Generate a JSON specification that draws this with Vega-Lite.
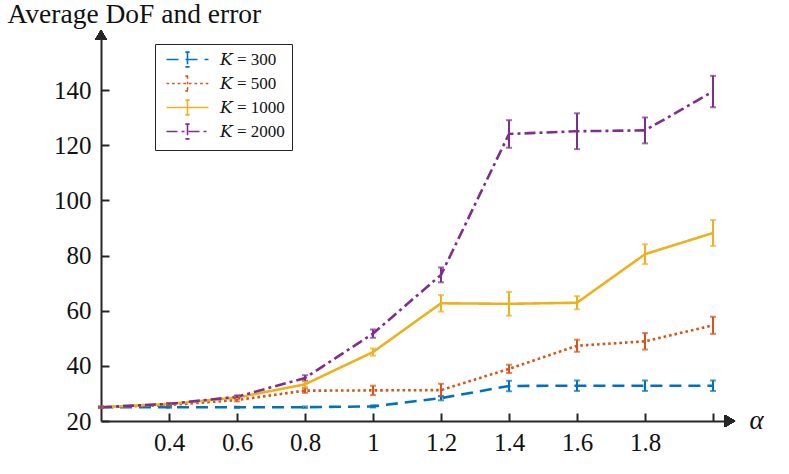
{
  "$schema": "https://vega.github.io/schema/vega-lite/v6.json",
  "width": 629,
  "height": 386,
  "autosize": {"type": "none"},
  "padding": {"left": 101, "top": 35, "right": 59, "bottom": 53},
  "background": "white",
  "config": {
    "view": {"stroke": null},
    "font": "Liberation Serif",
    "axis": {
      "grid": false,
      "domainColor": "#262626",
      "domainWidth": 2,
      "tickColor": "#262626",
      "tickWidth": 2,
      "tickSize": -8,
      "labelFont": "Liberation Serif",
      "labelFontSize": 25,
      "labelColor": "#111111",
      "titleFont": "Liberation Serif",
      "titleColor": "#111111",
      "titleFontWeight": "normal"
    },
    "legend": {
      "orient": "none",
      "legendX": 54,
      "legendY": 9,
      "strokeColor": "#262626",
      "fillColor": "white",
      "padding": 7,
      "symbolType": "M-4,0H4M0,-1.4V1.4M-0.4,-1.4H0.4M-0.4,1.4H0.4",
      "symbolSize": 110,
      "symbolStrokeWidth": 1.6,
      "symbolOffset": 17,
      "labelFont": "Liberation Serif, DejaVu Serif, serif",
      "labelFontSize": 17,
      "labelColor": "#111111",
      "labelOffset": 24,
      "rowPadding": 1
    }
  },
  "data": {
    "values": [
      {"alpha": 0.2, "K": 300, "mean": 25.0, "err": 0.2},
      {"alpha": 0.4, "K": 300, "mean": 25.0, "err": 0.2},
      {"alpha": 0.6, "K": 300, "mean": 25.0, "err": 0.2},
      {"alpha": 0.8, "K": 300, "mean": 25.0, "err": 0.3},
      {"alpha": 1.0, "K": 300, "mean": 25.3, "err": 0.4},
      {"alpha": 1.2, "K": 300, "mean": 28.3, "err": 0.8},
      {"alpha": 1.4, "K": 300, "mean": 32.7, "err": 1.9},
      {"alpha": 1.6, "K": 300, "mean": 32.8, "err": 1.9},
      {"alpha": 1.8, "K": 300, "mean": 32.8, "err": 1.9},
      {"alpha": 2.0, "K": 300, "mean": 32.8, "err": 1.9},
      {"alpha": 0.2, "K": 500, "mean": 25.0, "err": 0.2},
      {"alpha": 0.4, "K": 500, "mean": 25.8, "err": 0.3},
      {"alpha": 0.6, "K": 500, "mean": 27.6, "err": 0.5},
      {"alpha": 0.8, "K": 500, "mean": 31.0, "err": 0.8},
      {"alpha": 1.0, "K": 500, "mean": 31.1, "err": 1.7},
      {"alpha": 1.2, "K": 500, "mean": 31.2, "err": 2.3},
      {"alpha": 1.4, "K": 500, "mean": 38.9, "err": 1.5},
      {"alpha": 1.6, "K": 500, "mean": 47.3, "err": 2.2},
      {"alpha": 1.8, "K": 500, "mean": 48.9, "err": 3.0},
      {"alpha": 2.0, "K": 500, "mean": 54.7, "err": 3.1},
      {"alpha": 0.2, "K": 1000, "mean": 25.0, "err": 0.2},
      {"alpha": 0.4, "K": 1000, "mean": 26.2, "err": 0.3},
      {"alpha": 0.6, "K": 1000, "mean": 28.5, "err": 0.5},
      {"alpha": 0.8, "K": 1000, "mean": 33.3, "err": 1.0},
      {"alpha": 1.0, "K": 1000, "mean": 45.0, "err": 1.3},
      {"alpha": 1.2, "K": 1000, "mean": 62.7, "err": 3.0},
      {"alpha": 1.4, "K": 1000, "mean": 62.5, "err": 4.3},
      {"alpha": 1.6, "K": 1000, "mean": 62.9, "err": 2.4},
      {"alpha": 1.8, "K": 1000, "mean": 80.5, "err": 3.6},
      {"alpha": 2.0, "K": 1000, "mean": 88.2, "err": 4.7},
      {"alpha": 0.2, "K": 2000, "mean": 25.0, "err": 0.2},
      {"alpha": 0.4, "K": 2000, "mean": 26.2, "err": 0.3},
      {"alpha": 0.6, "K": 2000, "mean": 28.8, "err": 0.5},
      {"alpha": 0.8, "K": 2000, "mean": 35.6, "err": 1.0},
      {"alpha": 1.0, "K": 2000, "mean": 51.7, "err": 1.5},
      {"alpha": 1.2, "K": 2000, "mean": 73.0, "err": 2.7},
      {"alpha": 1.4, "K": 2000, "mean": 124.1, "err": 5.0},
      {"alpha": 1.6, "K": 2000, "mean": 125.1, "err": 6.5},
      {"alpha": 1.8, "K": 2000, "mean": 125.4, "err": 4.7},
      {"alpha": 2.0, "K": 2000, "mean": 139.5, "err": 5.7}
    ]
  },
  "layer": [
    {
      "mark": {"type": "line", "strokeWidth": 2.6, "clip": false},
      "encoding": {
        "x": {
          "field": "alpha", "type": "quantitative",
          "scale": {"domain": [0.2, 2.05], "nice": false, "zero": false},
          "axis": {
            "values": [0.4, 0.6, 0.8, 1.0, 1.2, 1.4, 1.6, 1.8, 2.0],
            "labelExpr": "datum.value > 1.95 ? '' : (abs(datum.value - 1) < 0.001 ? '1' : format(datum.value, '.1f'))",
            "labelPadding": 17,
            "title": "α",
            "titleFontSize": 27,
            "titleFontStyle": "italic",
            "titleAlign": "left",
            "titleBaseline": "alphabetic",
            "titleAngle": 0,
            "titleX": 648,
            "titleY": 7
          }
        },
        "y": {
          "field": "mean", "type": "quantitative",
          "scale": {"domain": [20, 160], "nice": false, "zero": false},
          "axis": {
            "values": [20, 40, 60, 80, 100, 120, 140],
            "labelPadding": 18,
            "title": "Average DoF and error",
            "titleFontSize": 27.5,
            "titleAngle": 0,
            "titleAlign": "left",
            "titleBaseline": "alphabetic",
            "titleX": -94,
            "titleY": -13
          }
        },
        "color": {
          "field": "K", "type": "nominal",
          "scale": {"domain": [300, 500, 1000, 2000], "range": ["#0072BD", "#D95319", "#EDB120", "#7E2F8E"]},
          "legend": {"title": null, "labelFont": "Liberation Serif, DejaVu Serif, serif", "labelFontSize": 17, "labelExpr": "'𝐾 = ' + datum.label + '\u2003\u2003\u2002'"}
        },
        "strokeDash": {
          "field": "K", "type": "nominal",
          "scale": {"domain": [300, 500, 1000, 2000], "range": [[12, 7], [2.6, 3], [1, 0], [11, 4, 3, 4]]},
          "legend": {"title": null, "labelFont": "Liberation Serif, DejaVu Serif, serif", "labelFontSize": 17, "labelExpr": "'𝐾 = ' + datum.label + '\u2003\u2003\u2002'"}
        }
      }
    },
    {
      "mark": {"type": "errorbar", "ticks": {"size": 6, "thickness": 2}, "rule": {"strokeWidth": 2}},
      "encoding": {
        "x": {"field": "alpha", "type": "quantitative", "title": "α"},
        "y": {"field": "mean", "type": "quantitative", "title": "Average DoF and error"},
        "yError": {"field": "err"},
        "color": {"field": "K", "type": "nominal", "legend": null}
      }
    },
    {
      "mark": {"type": "point", "shape": "triangle-up", "filled": true, "color": "#262626", "opacity": 1, "size": 140},
      "encoding": {
        "x": {"datum": 0.2, "type": "quantitative"},
        "y": {"datum": 160, "type": "quantitative"}
      }
    },
    {
      "mark": {"type": "point", "shape": "triangle-right", "filled": true, "color": "#262626", "opacity": 1, "size": 140},
      "encoding": {
        "x": {"datum": 2.05, "type": "quantitative"},
        "y": {"datum": 20, "type": "quantitative"}
      }
    }
  ]
}
